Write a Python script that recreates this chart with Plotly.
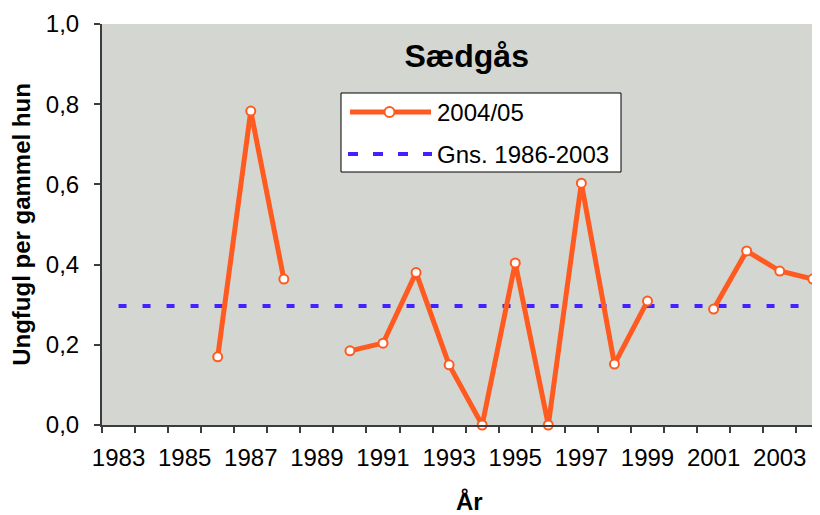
import plotly.graph_objects as go

# ---- data ----
years = list(range(1983, 2005))
values_0405 = [None, None, None, 0.17, 0.783, 0.364, None, 0.185, 0.204, 0.38,
               0.15, 0.0, 0.404, 0.0, 0.603, 0.152, 0.309, None, 0.289, 0.434,
               0.384, 0.364]
avg_years = [1983, 2004]
avg_value = 0.297
label_years = list(range(1983, 2005, 2))
label_text = [str(y) for y in label_years]
series_names = ["2004/05", "Gns. 1986-2003"]
chart_title = "Sædgås"
x_title = "År"
y_title = "Ungfugl per gammel hun"

# ---- layout geometry (pixels) ----
# the page body adds an 8px offset; design in reference pixels minus 8
OFF = 8
W, H = 820 - OFF, 515 - OFF
L, T = 102 - OFF, 24 - OFF
PLOT_BOTTOM = 425 - OFF
R = 0
B = H - PLOT_BOTTOM
PW = W - L - R
PH = H - T - B

def px(x):
    return (x - OFF - L) / PW

def py(y):
    return (PLOT_BOTTOM - (y - OFF)) / PH

ORANGE = "#FF5A1F"
BLUE = "#4422FF"
BG = "#D4D6D1"
AX = "#3c3c3c"
FONT = "Liberation Sans, Arial, sans-serif"

fig = go.Figure()
fig.add_trace(go.Scatter(
    x=avg_years, y=[avg_value] * len(avg_years), mode="lines", name=series_names[1],
    line=dict(color=BLUE, width=4, dash="8px,16px"), showlegend=False,
    hoverinfo="skip"))
fig.add_trace(go.Scatter(
    x=years, y=values_0405, mode="lines+markers", name=series_names[0],
    connectgaps=False, cliponaxis=False,
    line=dict(color=ORANGE, width=5),
    marker=dict(size=9, color="white", line=dict(color=ORANGE, width=2)),
    showlegend=False))

shapes = []
annotations = []
# custom legend
shapes.append(dict(type="rect", xref="paper", yref="paper",
                   x0=px(341), x1=px(621), y0=py(172), y1=py(93),
                   fillcolor="white", line=dict(color="black", width=1), layer="above"))
shapes.append(dict(type="line", xref="paper", yref="paper",
                   x0=px(350), x1=px(431), y0=py(112), y1=py(112),
                   line=dict(color=ORANGE, width=5), layer="above"))
shapes.append(dict(type="circle", xref="paper", yref="paper",
                   xsizemode="pixel", ysizemode="pixel",
                   xanchor=px(389.5), yanchor=py(112),
                   x0=-5, x1=5, y0=-5, y1=5,
                   fillcolor="white", line=dict(color=ORANGE, width=2), layer="above"))
shapes.append(dict(type="line", xref="paper", yref="paper",
                   x0=px(348), x1=px(432), y0=py(154), y1=py(154),
                   line=dict(color=BLUE, width=4, dash="10px,15px"), layer="above"))
annotations.append(dict(text=series_names[0], xref="paper", yref="paper",
                        x=px(435), y=py(112), xanchor="left", yanchor="middle",
                        showarrow=False, font=dict(size=24, color="black", family=FONT)))
annotations.append(dict(text=series_names[1], xref="paper", yref="paper",
                        x=px(435), y=py(154), xanchor="left", yanchor="middle",
                        showarrow=False, font=dict(size=24, color="black", family=FONT)))
# x title (centered on original, wider plot area)
annotations.append(dict(text="<b>%s</b>" % x_title, xref="paper", yref="paper",
                        x=px(469), y=py(502), xanchor="center", yanchor="middle",
                        showarrow=False, font=dict(size=24, color="black", family=FONT)))

fig.update_layout(
    width=W, height=H,
    margin=dict(l=L, r=R, t=T, b=B, autoexpand=False),
    paper_bgcolor="white", plot_bgcolor=BG,
    separators=", ",
    font=dict(family=FONT, size=24, color="black"),
    title=dict(text="<b>%s</b>" % chart_title, x=(466.7 - OFF) / W, y=1 - (56 - OFF) / H,
               xanchor="center", yanchor="middle", automargin=False,
               font=dict(size=32, color="black", family=FONT)),
    shapes=shapes, annotations=annotations,
    showlegend=False,
)
fig.update_xaxes(
    automargin=False,
    range=[1982.5, 1982.5 + PW / 33.06],
    tickmode="array", tickvals=label_years, ticktext=label_text,
    ticks="", showgrid=False, zeroline=False,
    showline=True, linecolor=AX, linewidth=1.5,
    tickfont=dict(size=24, color="black"),
    ticklabelstandoff=10,
    minor=dict(tickmode="array", tickvals=[y - 0.5 for y in years],
               ticks="outside", ticklen=6, tickcolor=AX, tickwidth=1.5, showgrid=False),
)
fig.update_yaxes(
    automargin=False,
    range=[0, 1], tickmode="linear", tick0=0, dtick=0.2, tickformat=".1f",
    ticks="outside", ticklen=6, tickcolor=AX, tickwidth=1.5,
    showgrid=False, zeroline=False,
    showline=True, linecolor=AX, linewidth=2,
    tickfont=dict(size=24, color="black"),
    ticklabelstandoff=10,
    title=dict(text="<b>%s</b>" % y_title, standoff=10,
               font=dict(size=24, color="black", family=FONT)),
)

fig.write_html("out.html")
